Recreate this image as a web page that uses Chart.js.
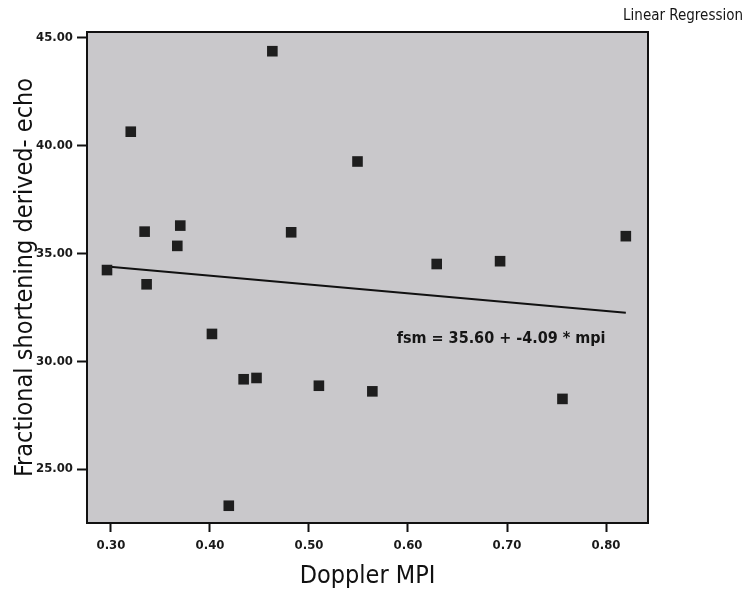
<!DOCTYPE html>
<html>
<head>
<meta charset="utf-8">
<script src="https://cdn.jsdelivr.net/npm/chart.js@4.4.0/dist/chart.umd.min.js"></script>
<style>
  html, body { margin: 0; padding: 0; background: #fff; }
  #wrap { width: 746px; height: 597px; }
</style>
</head>
<body>
<div id="wrap"><canvas id="chart" width="746" height="597"></canvas></div>
<script>
// data
const mpi = [0.296, 0.320, 0.334, 0.336, 0.367, 0.370, 0.402, 0.419, 0.434, 0.447,
             0.463, 0.482, 0.510, 0.549, 0.564, 0.629, 0.693, 0.756, 0.820];
const fsm = [34.22, 40.63, 36.00, 33.56, 35.34, 36.28, 31.26, 23.30, 29.16, 29.22,
             44.36, 35.97, 28.86, 39.25, 28.60, 34.50, 34.63, 28.25, 35.79];
const xTicks = [0.30, 0.40, 0.50, 0.60, 0.70, 0.80];
const yTicks = [25, 30, 35, 40, 45];

// regression line from the printed equation
const intercept = 35.60;
const slope = -4.09;
const eqText = 'fsm = 35.60 + -4.09 * mpi';

const points = mpi.map((x, i) => ({ x: x, y: fsm[i] }));
const xMin = Math.min(...mpi), xMax = Math.max(...mpi);
const fitLine = [
    { x: xMin, y: intercept + slope * xMin },
    { x: xMax, y: intercept + slope * xMax }
];

const tickFont = { family: '"DejaVu Sans Condensed", "DejaVu Sans", sans-serif', size: 13, weight: 'bold' };
const titleFont = { family: '"DejaVu Sans Condensed", "DejaVu Sans", sans-serif', size: 25, weight: 'normal' };

// plot frame, gray fill and the two text labels
const framePlugin = {
    id: 'frame',
    beforeDraw(chart) {
        const a = chart.chartArea, ctx = chart.ctx;
        ctx.save();
        ctx.fillStyle = '#c9c8cb';
        ctx.fillRect(a.left, a.top, a.right - a.left, a.bottom - a.top);
        ctx.restore();
    },
    afterDraw(chart) {
        const a = chart.chartArea, ctx = chart.ctx;
        const xs = chart.scales.x, ys = chart.scales.y;
        ctx.save();
        ctx.strokeStyle = '#111';
        ctx.lineWidth = 2;
        ctx.strokeRect(a.left, a.top, a.right - a.left, a.bottom - a.top);

        ctx.fillStyle = '#151515';
        ctx.font = 'bold 16px "DejaVu Sans Condensed", "DejaVu Sans", sans-serif';
        ctx.textBaseline = 'middle';
        ctx.textAlign = 'left';
        ctx.fillText(eqText, xs.getPixelForValue(0.5886), ys.getPixelForValue(31.03));

        ctx.font = '15px "DejaVu Sans Condensed", "DejaVu Sans", sans-serif';
        ctx.textAlign = 'right';
        ctx.fillText('Linear Regression', 743, 16);
        ctx.restore();
    }
};

new Chart(document.getElementById('chart'), {
    type: 'scatter',
    data: {
        datasets: [
            {
                type: 'line',
                label: 'fit',
                data: fitLine,
                borderColor: '#111',
                borderWidth: 2,
                pointRadius: 0,
                fill: false,
                order: 2
            },
            {
                label: 'fsm',
                data: points,
                pointStyle: 'rect',
                pointRadius: 7.5,
                pointHoverRadius: 7.5,
                backgroundColor: '#1e1e1e',
                borderWidth: 0,
                order: 1
            }
        ]
    },
    options: {
        responsive: false,
        animation: false,
        layout: { padding: { left: 0, top: 32, right: 98, bottom: 0 } },
        plugins: {
            legend: { display: false },
            tooltip: { enabled: false }
        },
        scales: {
            x: {
                type: 'linear',
                min: 0.2758,
                max: 0.8424,
                afterBuildTicks: axis => { axis.ticks = xTicks.map(v => ({ value: v })); },
                afterFit: axis => { axis.height = 74; },
                grid: { drawOnChartArea: false, drawTicks: true, tickLength: 9, tickWidth: 2, tickColor: '#111' },
                border: { display: false },
                ticks: {
                    color: '#1a1a1a',
                    font: tickFont,
                    padding: 6,
                    maxRotation: 0,
                    callback: v => Number(v).toFixed(2)
                },
                title: {
                    display: true,
                    text: 'Doppler MPI',
                    color: '#111',
                    font: titleFont,
                    padding: { top: 0, bottom: 6 }
                }
            },
            y: {
                type: 'linear',
                min: 22.5,
                max: 45.25,
                afterBuildTicks: axis => { axis.ticks = yTicks.map(v => ({ value: v })); },
                afterFit: axis => { axis.width = 87; },
                grid: { drawOnChartArea: false, drawTicks: true, tickLength: 10, tickWidth: 2, tickColor: '#111' },
                border: { display: false },
                ticks: {
                    color: '#1a1a1a',
                    font: tickFont,
                    padding: 4,
                    callback: v => Number(v).toFixed(2)
                },
                title: {
                    display: true,
                    text: 'Fractional shortening derived- echo',
                    color: '#111',
                    font: titleFont,
                    padding: { top: 10, bottom: 0 }
                }
            }
        }
    },
    plugins: [framePlugin]
});
</script>
</body>
</html>
